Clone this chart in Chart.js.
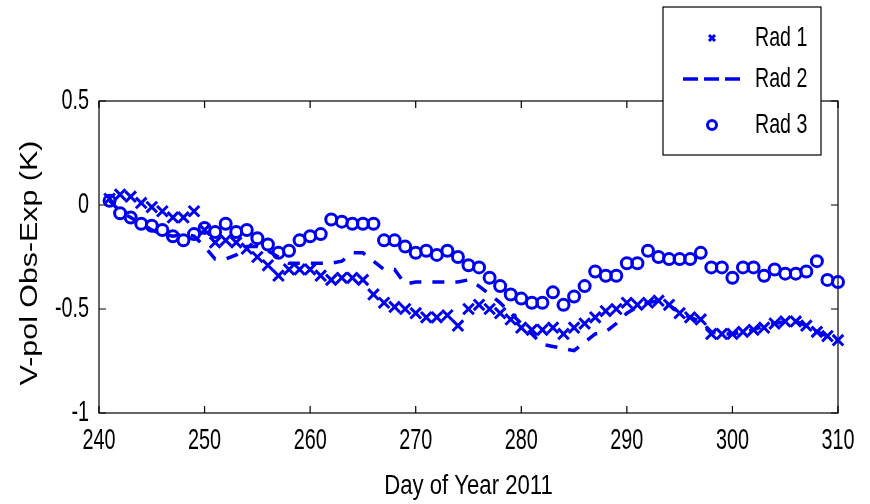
<!DOCTYPE html>
<html>
<head>
<meta charset="utf-8">
<script src="https://cdn.jsdelivr.net/npm/chart.js@4.4.1/dist/chart.umd.min.js"></script>
<style>
  html, body { margin: 0; padding: 0; background: #fff; }
  #wrap { width: 870px; height: 504px; }
</style>
</head>
<body>
<div id="wrap"><canvas id="myChart" width="870" height="504"></canvas></div>
<script>
// day of year 2011
var days = [241, 242, 243, 244, 245, 246, 247, 248, 249, 250,
            251, 252, 253, 254, 255, 256, 257, 258, 259, 260,
            261, 262, 263, 264, 265, 266, 267, 268, 269, 270,
            271, 272, 273, 274, 275, 276, 277, 278, 279, 280,
            281, 282, 283, 284, 285, 286, 287, 288, 289, 290,
            291, 292, 293, 294, 295, 296, 297, 298, 299, 300,
            301, 302, 303, 304, 305, 306, 307, 308, 309, 310];

var rad1 = [0.03, 0.05, 0.04, 0.01, -0.01, -0.03, -0.06, -0.06, -0.03, -0.12,
            -0.18, -0.17, -0.18, -0.21, -0.25, -0.29, -0.34, -0.31, -0.31, -0.31,
            -0.34, -0.36, -0.35, -0.35, -0.36, -0.43, -0.47, -0.49, -0.50, -0.52,
            -0.54, -0.54, -0.53, -0.58, -0.50, -0.48, -0.50, -0.52, -0.55, -0.59,
            -0.60, -0.60, -0.59, -0.62, -0.59, -0.57, -0.54, -0.51, -0.50, -0.47,
            -0.48, -0.47, -0.46, -0.48, -0.52, -0.54, -0.55, -0.62, -0.62, -0.62,
            -0.61, -0.60, -0.59, -0.57, -0.56, -0.56, -0.58, -0.61, -0.63, -0.65];

var rad2 = [0.02, -0.03, -0.06, -0.09, -0.12, -0.14, -0.15, -0.14, -0.15, -0.20,
            -0.26, -0.26, -0.24, -0.20, -0.20, -0.22, -0.25, -0.28, -0.28, -0.28,
            -0.28, -0.28, -0.27, -0.23, -0.23, -0.27, -0.31, -0.31, -0.38, -0.37,
            -0.37, -0.37, -0.37, -0.37, -0.36, -0.39, -0.43, -0.47, -0.52, -0.57,
            -0.62, -0.67, -0.68, -0.69, -0.70, -0.66, -0.62, -0.61, -0.57, -0.52,
            -0.49, -0.47, -0.46, -0.48, -0.52, -0.54, -0.56, -0.61, -0.62, -0.62,
            -0.61, -0.60, -0.58, -0.57, -0.56, -0.56, -0.58, -0.61, -0.63, -0.65];

var rad3 = [0.02, -0.04, -0.06, -0.09, -0.10, -0.12, -0.15, -0.17, -0.14, -0.11,
            -0.13, -0.09, -0.13, -0.12, -0.16, -0.19, -0.23, -0.22, -0.17, -0.15,
            -0.14, -0.07, -0.08, -0.09, -0.09, -0.09, -0.17, -0.17, -0.20, -0.23,
            -0.22, -0.24, -0.22, -0.25, -0.29, -0.30, -0.35, -0.39, -0.43, -0.45,
            -0.47, -0.47, -0.42, -0.48, -0.44, -0.39, -0.32, -0.34, -0.34, -0.28,
            -0.28, -0.22, -0.25, -0.26, -0.26, -0.26, -0.23, -0.30, -0.30, -0.35,
            -0.30, -0.30, -0.34, -0.31, -0.33, -0.33, -0.32, -0.27, -0.36, -0.37];

var seriesNames = ['Rad 1', 'Rad 2', 'Rad 3'];
var xTicks = [240, 250, 260, 270, 280, 290, 300, 310];
var yTicks = [0.5, 0, -0.5, -1];
var xTitle = 'Day of Year 2011';
var yTitle = 'V-pol Obs-Exp (K)';

var BLUE = '#0000f0';
var FONT = "'Liberation Sans', Arial, sans-serif";

function pts(vals) {
    var out = [];
    for (var i = 0; i < days.length; i++) out.push({ x: days[i], y: vals[i] });
    return out;
}

// text squeezed sideways, the original figure was stretched tall
function narrowText(ctx, txt, x, y, size, sx, align) {
    ctx.save();
    ctx.translate(x, y);
    ctx.scale(sx, 1);
    ctx.font = size + 'px ' + FONT;
    ctx.textAlign = align;
    ctx.textBaseline = 'middle';
    ctx.fillStyle = '#000';
    ctx.fillText(txt, 0, 0);
    ctx.restore();
}

// box round the axes with inward ticks, like matlab
var framePlugin = {
    id: 'frame',
    beforeDatasetsDraw: function (chart) {
        var ctx = chart.ctx, a = chart.chartArea;
        var xs = chart.scales.x, ys = chart.scales.y;
        var tl = 7;
        ctx.save();
        ctx.strokeStyle = '#000';
        ctx.lineWidth = 1.2;
        ctx.strokeRect(a.left, a.top, a.right - a.left, a.bottom - a.top);
        ctx.beginPath();
        xTicks.forEach(function (t) {
            var px = xs.getPixelForValue(t);
            ctx.moveTo(px, a.bottom); ctx.lineTo(px, a.bottom - tl);
            ctx.moveTo(px, a.top); ctx.lineTo(px, a.top + tl);
        });
        yTicks.forEach(function (t) {
            var py = ys.getPixelForValue(t);
            ctx.moveTo(a.left, py); ctx.lineTo(a.left + tl, py);
            ctx.moveTo(a.right, py); ctx.lineTo(a.right - tl, py);
        });
        ctx.stroke();
        ctx.restore();

        // tick labels and axis titles
        xTicks.forEach(function (t) {
            narrowText(ctx, String(t), xs.getPixelForValue(t), a.bottom + 28, 30, 0.66, 'center');
        });
        yTicks.forEach(function (t) {
            narrowText(ctx, String(t), a.left - 10, ys.getPixelForValue(t), 30, 0.66, 'right');
        });
        narrowText(ctx, xTitle, (a.left + a.right) / 2, 487, 27, 0.82, 'center');

        ctx.save();
        ctx.translate(31, 263);
        ctx.rotate(-Math.PI / 2);
        ctx.scale(1.32, 1);
        ctx.font = '23px ' + FONT;
        ctx.textAlign = 'center';
        ctx.textBaseline = 'middle';
        ctx.fillStyle = '#000';
        ctx.fillText(yTitle, 0, 0);
        ctx.restore();
    }
};

// legend box sitting over the top right corner
var legendPlugin = {
    id: 'boxLegend',
    afterDraw: function (chart) {
        var ctx = chart.ctx;
        var bx = 663, by = 7, bw = 158, bh = 148;
        ctx.save();
        ctx.fillStyle = '#fff';
        ctx.fillRect(bx, by, bw, bh);
        ctx.strokeStyle = '#000';
        ctx.lineWidth = 1.2;
        ctx.strokeRect(bx, by, bw, bh);

        var rows = [38, 79, 125];
        ctx.strokeStyle = BLUE;
        ctx.lineWidth = 3;
        // Rad 1 marker
        ctx.beginPath();
        ctx.moveTo(709, 35); ctx.lineTo(715, 41);
        ctx.moveTo(715, 35); ctx.lineTo(709, 41);
        ctx.stroke();
        // Rad 2 dashes
        ctx.lineWidth = 3.5;
        ctx.setLineDash([15, 6]);
        ctx.beginPath();
        ctx.moveTo(683, rows[1]); ctx.lineTo(746, rows[1]);
        ctx.stroke();
        ctx.setLineDash([]);
        // Rad 3 marker
        ctx.lineWidth = 3;
        ctx.beginPath();
        ctx.arc(712, rows[2], 4.5, 0, Math.PI * 2);
        ctx.stroke();
        ctx.restore();

        for (var i = 0; i < 3; i++) narrowText(ctx, seriesNames[i], 755, rows[i], 28, 0.7, 'left');
    }
};

var ctx = document.getElementById('myChart');

var chartGraph = new Chart(ctx, {
    type: 'scatter',
    data: {
        datasets: [{
            label: seriesNames[0],
            data: pts(rad1),
            showLine: false,
            pointStyle: 'crossRot',
            pointRadius: 7.5,
            pointBorderWidth: 3,
            borderColor: BLUE,
            backgroundColor: BLUE,
            clip: false
        }, {
            label: seriesNames[1],
            data: pts(rad2),
            showLine: true,
            pointRadius: 0,
            borderWidth: 3.5,
            borderDash: [12, 11],
            borderColor: BLUE,
            backgroundColor: BLUE,
            tension: 0,
            clip: false
        }, {
            label: seriesNames[2],
            data: pts(rad3),
            showLine: false,
            pointStyle: 'circle',
            pointRadius: 5.5,
            pointBorderWidth: 3,
            borderColor: BLUE,
            backgroundColor: 'rgba(0,0,0,0)',
            clip: false
        }]
    },
    options: {
        responsive: false,
        animation: false,
        events: [],
        layout: { padding: { left: 0, top: 101, right: 32, bottom: 0 } },
        plugins: {
            legend: { display: false },
            tooltip: { enabled: false }
        },
        scales: {
            x: {
                type: 'linear',
                min: 240,
                max: 310,
                afterFit: function (scale) { scale.height = 91; },
                grid: { display: false },
                border: { display: false },
                ticks: { display: false }
            },
            y: {
                type: 'linear',
                min: -1,
                max: 0.5,
                afterFit: function (scale) { scale.width = 99; },
                grid: { display: false },
                border: { display: false },
                ticks: { display: false }
            }
        }
    },
    plugins: [framePlugin, legendPlugin]
});
</script>
</body>
</html>
